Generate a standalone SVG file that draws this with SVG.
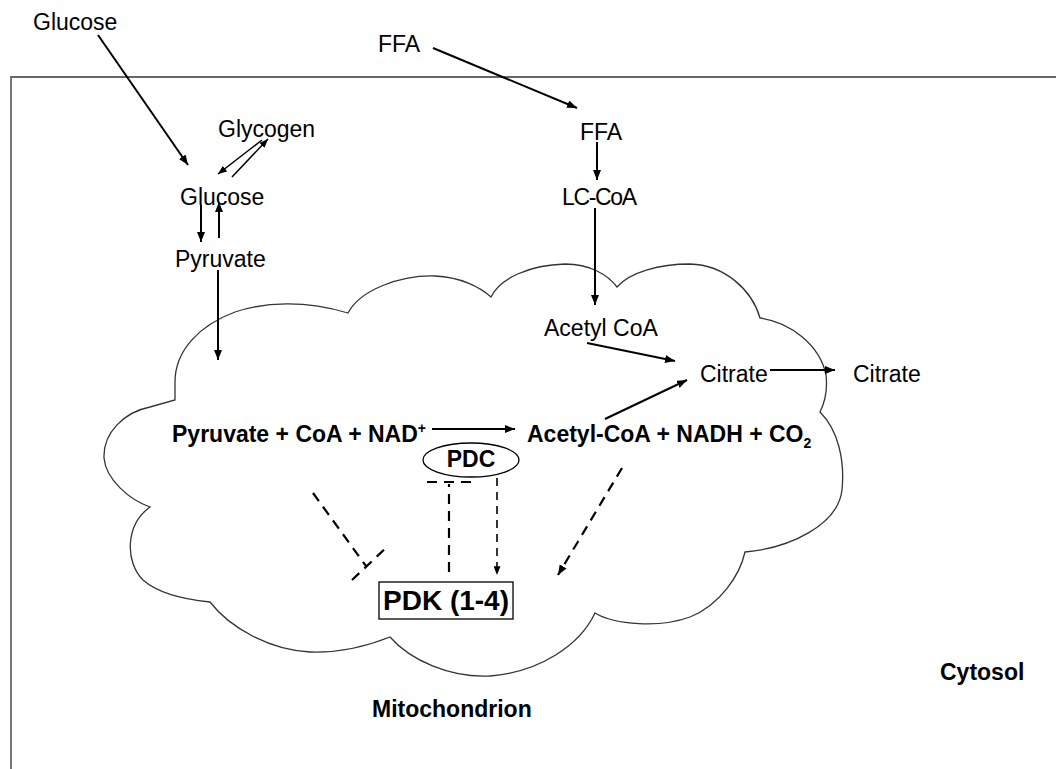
<svg xmlns="http://www.w3.org/2000/svg" width="1056" height="769" viewBox="0 0 1056 769">
  <style>
    .lbl { font-family: "Liberation Sans", Arial, sans-serif; font-size: 23px; fill: #000; }
    .bold { font-weight: bold; }
    .big { font-size: 28px; }
    .solid { stroke: #000; stroke-width: 2; fill: none; }
    .thin { stroke: #000; stroke-width: 1.5; fill: none; }
    .dash { stroke: #000; stroke-width: 2.2; fill: none; stroke-dasharray: 10 7; }
    .dashthin { stroke: #000; stroke-width: 1.6; fill: none; stroke-dasharray: 8 6; }
  </style>
  <defs>
    <marker id="arrow" viewBox="0 0 10 8" refX="10" refY="4" markerWidth="10" markerHeight="8" markerUnits="userSpaceOnUse" orient="auto">
      <path d="M0,0 L10,4 L0,8 Z" fill="#000"/>
    </marker>
    <marker id="arrowSmall" viewBox="0 0 10 8" refX="10" refY="4" markerWidth="9" markerHeight="7" markerUnits="userSpaceOnUse" orient="auto">
      <path d="M0,0 L10,4 L0,8 Z" fill="#000"/>
    </marker>
  </defs>
  <rect width="1056" height="769" fill="#fff"/>

  <!-- cell frame (cytosol) -->
  <g id="cell">
    <line x1="10" y1="77" x2="1056" y2="77" stroke="#333" stroke-width="1.6"/>
    <line x1="11" y1="77" x2="11" y2="769" stroke="#777" stroke-width="2"/>
  </g>

  <!-- mitochondrion outline -->
  <g id="mitochondrion">
    <path d="M175,400 L175,382 C175,350 200,325 235,312 C265,302 305,300 348,313
             C360,290 400,275 435,276 C460,277 480,287 491,297
             C500,278 530,265 565,264 C590,264 608,275 617,287
             C630,272 660,264 690,264 C725,265 752,290 760,318
             C790,322 820,345 826,375 C828,392 824,404 820,412
             C838,430 845,460 842,490 C838,525 790,548 745,552
             C740,575 720,605 690,617 C660,628 615,625 595,613
             C580,645 540,672 490,676 C450,678 410,660 390,637
             C370,645 340,653 310,652 C270,650 230,628 210,602
             C190,600 160,595 143,580 C125,562 125,525 150,507
             C130,500 106,480 104,458 C103,432 125,412 150,407 Z"
          fill="none" stroke="#333" stroke-width="1.3"/>
  </g>

  <!-- connectors -->
  <g id="connectors">
    <line class="solid" x1="98" y1="35" x2="188" y2="165" marker-end="url(#arrow)"/>
    <line class="solid" x1="433" y1="48" x2="577" y2="108" marker-end="url(#arrow)"/>
    <line class="solid" x1="597" y1="142" x2="597" y2="180" marker-end="url(#arrow)"/>
    <line class="solid" x1="595" y1="208" x2="595" y2="305" marker-end="url(#arrow)"/>
    <line class="thin" x1="262" y1="140" x2="218" y2="174" marker-end="url(#arrowSmall)"/>
    <line class="thin" x1="232" y1="177" x2="268" y2="139" marker-end="url(#arrowSmall)"/>
    <line class="solid" x1="201" y1="205" x2="201" y2="242" marker-end="url(#arrow)"/>
    <line class="solid" x1="219" y1="238" x2="219" y2="202" marker-end="url(#arrow)"/>
    <line class="solid" x1="218" y1="270" x2="218" y2="360" marker-end="url(#arrow)"/>
    <line class="solid" x1="587" y1="343" x2="675" y2="361" marker-end="url(#arrow)"/>
    <line class="solid" x1="605" y1="419" x2="687" y2="380" marker-end="url(#arrow)"/>
    <line class="solid" x1="770" y1="370" x2="835" y2="370" marker-end="url(#arrow)"/>
    <line class="solid" x1="432" y1="429" x2="515" y2="429" marker-end="url(#arrow)"/>
    <!-- inhibition of PDK -->
    <line class="dash" x1="313" y1="493" x2="366" y2="566"/>
    <line class="dash" x1="352" y1="580" x2="388" y2="546" stroke-dasharray="12 6"/>
    <!-- PDK inhibits PDC -->
    <line class="dash" x1="449" y1="572" x2="449" y2="484"/>
    <line class="dash" x1="427" y1="482" x2="473" y2="482" stroke-dasharray="10 9 8 12 10"/>
    <!-- PDC activity to PDK -->
    <line class="dashthin" x1="497" y1="478" x2="497" y2="575" marker-end="url(#arrowSmall)"/>
    <line class="dash" x1="622" y1="468" x2="558" y2="575" marker-end="url(#arrow)"/>
  </g>

  <g id="glucose-ext"><text class="lbl" x="33" y="30">Glucose</text></g>
  <g id="ffa-ext"><text class="lbl" x="378" y="52">FFA</text></g>
  <g id="ffa"><text class="lbl" x="580" y="140">FFA</text></g>
  <g id="lccoa"><text class="lbl" x="562" y="205" textLength="75" lengthAdjust="spacing">LC-CoA</text></g>
  <g id="glycogen"><text class="lbl" x="218" y="137">Glycogen</text></g>
  <g id="glucose"><text class="lbl" x="180" y="205">Glucose</text></g>
  <g id="pyruvate"><text class="lbl" x="175" y="267">Pyruvate</text></g>
  <g id="acetylcoa"><text class="lbl" x="544" y="336">Acetyl CoA</text></g>
  <g id="citrate-mito"><text class="lbl" x="700" y="382">Citrate</text></g>
  <g id="citrate-cyto"><text class="lbl" x="853" y="382">Citrate</text></g>
  <g id="substrates"><text class="lbl bold" x="172" y="442">Pyruvate + CoA + NAD<tspan font-size="14" dy="-9">+</tspan></text></g>
  <g id="products"><text class="lbl bold" x="527" y="442">Acetyl-CoA + NADH + CO<tspan font-size="14" dy="6">2</tspan></text></g>
  <g id="pdc">
    <ellipse cx="471" cy="460" rx="48" ry="17" fill="none" stroke="#000" stroke-width="1.3"/>
    <text class="lbl bold" x="471" y="467" text-anchor="middle">PDC</text>
  </g>
  <g id="pdk">
    <rect x="379" y="582" width="134" height="37" fill="none" stroke="#000" stroke-width="1.3"/>
    <text class="lbl bold big" x="446" y="610" text-anchor="middle">PDK (1-4)</text>
  </g>
  <g id="label-mito"><text class="lbl bold" x="372" y="717">Mitochondrion</text></g>
  <g id="label-cyto"><text class="lbl bold" x="940" y="680">Cytosol</text></g>
</svg>
